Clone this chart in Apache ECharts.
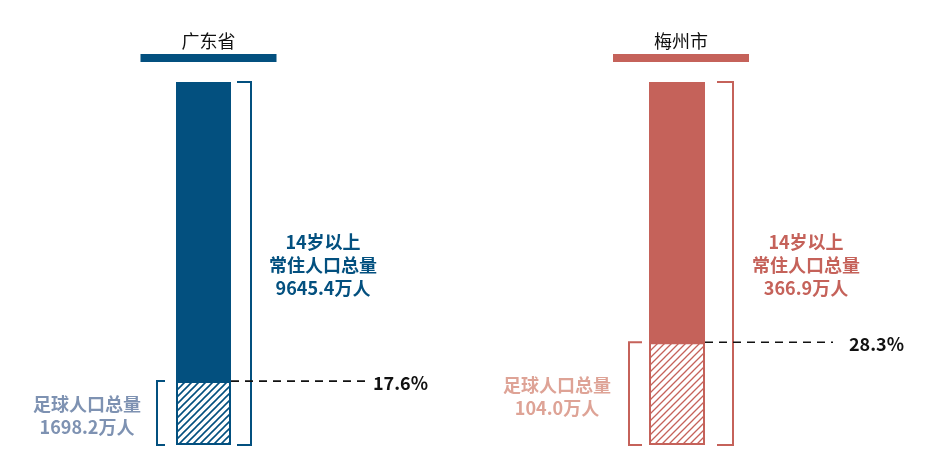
<!DOCTYPE html>
<html><head><meta charset="utf-8">
<script src="https://cdn.jsdelivr.net/npm/echarts@6/dist/echarts.min.js"></script>
<style>html,body{margin:0;padding:0;background:#fff;}#c{width:944px;height:462px;}</style>
</head><body><div id="c"></div>
<script>
// ---- data ----
const regions = ['广东省', '梅州市'];
const totalPopulation = [9645.4, 366.9];      // 万人, 14岁以上常住人口
const footballPopulation = [1698.2, 104.0];   // 万人, 足球人口
const sharePct = [17.6, 28.3];                // 足球人口占比 %
const totalLabelHead = ['14岁以上', '常住人口总量'];
const footballLabelHead = ['足球人口总量'];

// ---- style / layout ----
const mainColor = ['#03507f', '#c5625a'];
const subTextColor = ['#7e92b2', '#dea396'];
const hatchWidth = [1.6, 1.3];
const gridPos = [{left: 176, width: 55}, {left: 649, width: 56}];
const deco = [
  {rbOff: 20, rbTick: 14, lbOff: 19, lbTick: 8, dash: 136, pctGap: 6, topLblOff: 72, botLblOff: 70, titleShift: 5},
  {rbOff: 28, rbTick: 16, lbOff: 20, lbTick: 13, dash: 128, pctGap: 16, topLblOff: 73, botLblOff: 72, titleShift: 4}
];
const FONT = '"Noto Sans CJK SC","Microsoft YaHei",sans-serif';

function makeHatch(color, lw) {
  const s = 7;
  const c = document.createElement('canvas');
  c.width = s; c.height = s;
  const g = c.getContext('2d');
  g.fillStyle = '#fff'; g.fillRect(0, 0, s, s);
  g.strokeStyle = color; g.lineWidth = lw;
  g.beginPath();
  g.moveTo(0, s); g.lineTo(s, 0);
  g.moveTo(-s / 2, s / 2); g.lineTo(s / 2, -s / 2);
  g.moveTo(s / 2, s * 1.5); g.lineTo(s * 1.5, s / 2);
  g.stroke();
  return c;
}

const grids = [], xAxes = [], yAxes = [], series = [];
regions.forEach((name, i) => {
  grids.push({left: gridPos[i].left, width: gridPos[i].width, top: 82, bottom: 17});
  xAxes.push({type: 'category', gridIndex: i, data: [name], show: false});
  yAxes.push({type: 'value', gridIndex: i, min: 0, max: 100, show: false});
  series.push({
    type: 'bar', xAxisIndex: i, yAxisIndex: i, barWidth: '100%', barGap: '-100%',
    data: [100], itemStyle: {color: mainColor[i]}, silent: true, z: 2
  });
  series.push({
    type: 'bar', xAxisIndex: i, yAxisIndex: i, barWidth: '100%', barGap: '-100%',
    data: [sharePct[i]],
    itemStyle: {color: {image: makeHatch(mainColor[i], hatchWidth[i]), repeat: 'repeat'}, borderColor: mainColor[i], borderWidth: 2},
    silent: true, z: 3
  });
  const d = deco[i];
  series.push({
    type: 'custom', xAxisIndex: i, yAxisIndex: i, clip: false, silent: true, z: 4,
    data: [[0, sharePct[i]]],
    renderItem: function (params, api) {
      const top = api.coord([0, 100]);
      const base = api.coord([0, 0]);
      const cut = api.coord([0, api.value(1)]);
      const bw = api.size([1, 0])[0];
      const cx = top[0];
      const xL = cx - bw / 2, xR = cx + bw / 2;
      const rb = xR + d.rbOff, lb = xL - d.lbOff;
      const ty = top[1], by = base[1], cy = cut[1];
      const children = [];
      children.push({type: 'polyline', shape: {points: [[rb - d.rbTick, ty], [rb, ty], [rb, by], [rb - d.rbTick, by]]},
        style: {stroke: mainColor[i], lineWidth: 2, fill: null}});
      children.push({type: 'polyline', shape: {points: [[lb + d.lbTick, cy], [lb, cy], [lb, by], [lb + d.lbTick, by]]},
        style: {stroke: mainColor[i], lineWidth: 2, fill: null}});
      children.push({type: 'line', shape: {x1: xR, y1: cy, x2: xR + d.dash, y2: cy},
        style: {stroke: '#111', lineWidth: 1.6, lineDash: [8, 6]}});
      children.push({type: 'text', style: {text: sharePct[i].toFixed(1) + '%', x: xR + d.dash + d.pctGap, y: cy + 2,
        fill: '#111', font: 'bold 18px ' + FONT, align: 'left', verticalAlign: 'middle'}});
      children.push({type: 'text', style: {
        text: totalLabelHead.concat([totalPopulation[i].toFixed(1) + '万人']).join('\n'),
        x: rb + d.topLblOff, y: (ty + by) / 2 + 2, fill: mainColor[i], font: 'bold 18px ' + FONT,
        lineHeight: 23, align: 'center', verticalAlign: 'middle'}});
      children.push({type: 'text', style: {
        text: footballLabelHead.concat([footballPopulation[i].toFixed(1) + '万人']).join('\n'),
        x: lb - d.botLblOff, y: (cy + by) / 2 + 3, fill: subTextColor[i], font: 'bold 18px ' + FONT,
        lineHeight: 23, align: 'center', verticalAlign: 'middle'}});
      const tcx = cx + d.titleShift;
      children.push({type: 'rect', shape: {x: tcx - 68, y: ty - 28, width: 136, height: 8}, style: {fill: mainColor[i]}});
      children.push({type: 'text', style: {text: name, x: tcx, y: ty - 41, fill: '#111', font: '18px ' + FONT,
        align: 'center', verticalAlign: 'middle'}});
      return {type: 'group', children: children};
    }
  });
});

const chart = echarts.init(document.getElementById('c'), null, {renderer: 'canvas'});
chart.setOption({
  animation: false,
  backgroundColor: '#fff',
  grid: grids, xAxis: xAxes, yAxis: yAxes, series: series
});
</script></body></html>
